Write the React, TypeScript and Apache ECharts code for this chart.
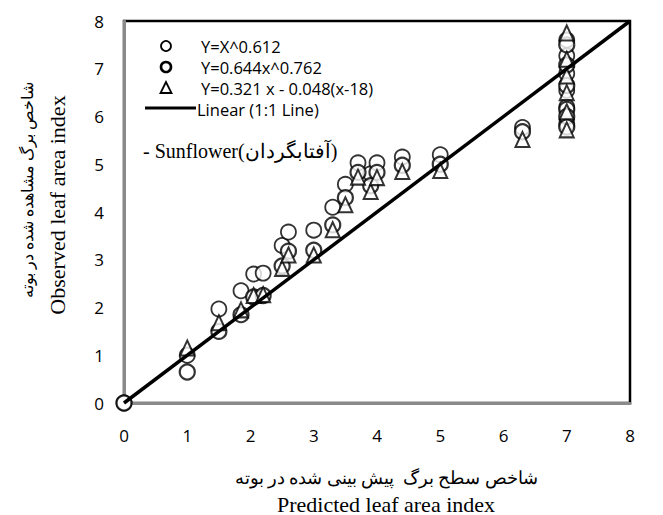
import React, { useEffect, useRef } from "react";
import * as echarts from "echarts";

// Predicted leaf area index (x) shared by the three models
const predicted = [0, 1, 1.5, 1.85, 2.05, 2.2, 2.5, 2.6, 3, 3.3, 3.5, 3.7, 3.9, 4, 4.4, 5, 6.3, 7, 7, 7, 7, 7, 7];
// Observed leaf area index for each model
const powerModel = [0, 1.0, 1.97, 2.35, 2.7, 2.72, 3.3, 3.58, 3.62, 4.1, 4.58, 5.03, 4.8, 5.03, 5.15, 5.2, 5.77, 7.6, 7.27, 6.9, 6.55, 6.2, 5.85];
const scaledPowerModel = [0, 0.65, 1.5, 1.85, 2.22, 2.25, 2.87, 3.18, 3.2, 3.73, 4.3, 4.83, 4.55, 4.83, 4.98, 5.0, 5.68, 7.5, 7.08, 6.65, 6.15, 6.0, 5.78];
const linearModel = [null, 1.15, 1.68, 1.95, 2.25, 2.27, 2.82, 3.1, 3.1, 3.63, 4.15, 4.73, 4.43, 4.72, 4.85, 4.87, 5.52, 7.75, 7.2, 6.85, 6.5, 6.1, 5.72];
const oneToOne = [[0, 0], [8, 8]];

const legendNames = ["Y=X^0.612", "Y=0.644x^0.762", "Y=0.321 x - 0.048(x-18)", "Linear (1:1 Line)"];

const pairs = (ys: (number | null)[]) =>
  predicted.map((x, i) => [x, ys[i]]).filter((p) => p[1] !== null);

const LEGEND_FONT = '16.5px "Open Sans", sans-serif';
const SERIF = '"Liberation Serif", "Times New Roman", serif';

export default function App() {
  const ref = useRef<HTMLDivElement>(null);
  useEffect(() => {
    const chart = echarts.init(ref.current!, null, { renderer: "svg" });
    const axisCommon = {
      type: "value",
      min: 0,
      max: 8,
      interval: 1,
      axisLine: { show: true, lineStyle: { color: "#8a8a8a", width: 3 } },
      axisTick: { show: false },
      splitLine: { show: false },
    };
    const markerStyle = (w: number) => ({ color: "#fff", borderColor: "#000", borderWidth: w });
    const legendText = (x: number, y: number, text: string) => ({
      type: "text",
      x,
      y,
      style: { text, font: LEGEND_FONT, lineHeight: 18, fill: "#000", textVerticalAlign: "middle" },
    });
    chart.setOption({
      animation: false,
      backgroundColor: "#fff",
      grid: {
        left: 124,
        top: 21,
        width: 506,
        height: 382,
        show: true,
        borderColor: "#000",
        borderWidth: 2.5,
        backgroundColor: "transparent",
      },
      xAxis: {
        ...axisCommon,
        axisLabel: { margin: 24, fontSize: 17, color: "#000", fontFamily: '"Open Sans", sans-serif' },
      },
      yAxis: {
        ...axisCommon,
        axisLabel: { margin: 20, fontSize: 17, color: "#000", fontFamily: '"Open Sans", sans-serif' },
      },
      series: [
        {
          name: legendNames[0],
          type: "scatter",
          symbol: "circle",
          symbolSize: 15,
          itemStyle: markerStyle(1.8),
          data: pairs(powerModel),
          z: 2,
        },
        {
          name: legendNames[1],
          type: "scatter",
          symbol: "circle",
          symbolSize: 15,
          itemStyle: markerStyle(2.2),
          data: pairs(scaledPowerModel),
          z: 3,
        },
        {
          name: legendNames[2],
          type: "scatter",
          symbol: "triangle",
          symbolSize: [14, 15],
          itemStyle: markerStyle(2),
          data: pairs(linearModel),
          z: 4,
        },
        {
          name: legendNames[3],
          type: "line",
          data: oneToOne,
          symbol: "none",
          lineStyle: { color: "#000", width: 3.5 },
          z: 10,
        },
      ],
      graphic: [
        // legend block
        { type: "circle", shape: { cx: 166, cy: 46, r: 5 }, style: { fill: "#fff", stroke: "#000", lineWidth: 1.8 } },
        legendText(201, 46, legendNames[0]),
        { type: "circle", shape: { cx: 166, cy: 67, r: 5 }, style: { fill: "#fff", stroke: "#000", lineWidth: 2.6 } },
        legendText(201, 67, legendNames[1]),
        { type: "polygon", shape: { points: [[166, 82], [160.5, 93], [171.5, 93]] }, style: { fill: "#fff", stroke: "#000", lineWidth: 1.8 } },
        legendText(201, 88, legendNames[2]),
        { type: "line", shape: { x1: 145, y1: 108, x2: 196, y2: 108 }, style: { stroke: "#000", lineWidth: 3 } },
        legendText(197, 109, legendNames[3]),
        { type: "text", x: 143, y: 151, style: { text: "- Sunflower(آفتابگردان)", font: `20px ${SERIF}`, fill: "#000", textVerticalAlign: "middle" } },
        // y axis titles
        {
          type: "text", x: 27, y: 190, rotation: Math.PI / 2,
          style: { text: "شاخص برگ مشاهده شده در بوته", font: `16px ${SERIF}`, fill: "#000", textAlign: "center", textVerticalAlign: "middle" },
        },
        {
          type: "text", x: 57, y: 205, rotation: Math.PI / 2,
          style: { text: "Observed leaf area index", font: `22px ${SERIF}`, fill: "#000", textAlign: "center", textVerticalAlign: "middle" },
        },
        // x axis titles
        {
          type: "text", x: 386, y: 478,
          style: { text: "شاخص سطح برگ  پیش بینی شده در بوته", font: `17.5px ${SERIF}`, fill: "#000", textAlign: "center", textVerticalAlign: "middle" },
        },
        {
          type: "text", x: 386, y: 504,
          style: { text: "Predicted leaf area index", font: `22px ${SERIF}`, fill: "#000", textAlign: "center", textVerticalAlign: "middle" },
        },
      ],
    });
    return () => chart.dispose();
  }, []);
  return (
    <div
      ref={ref}
      style={{ position: "absolute", left: 0, top: 0, width: 663, height: 515, background: "#fff" }}
    />
  );
}
